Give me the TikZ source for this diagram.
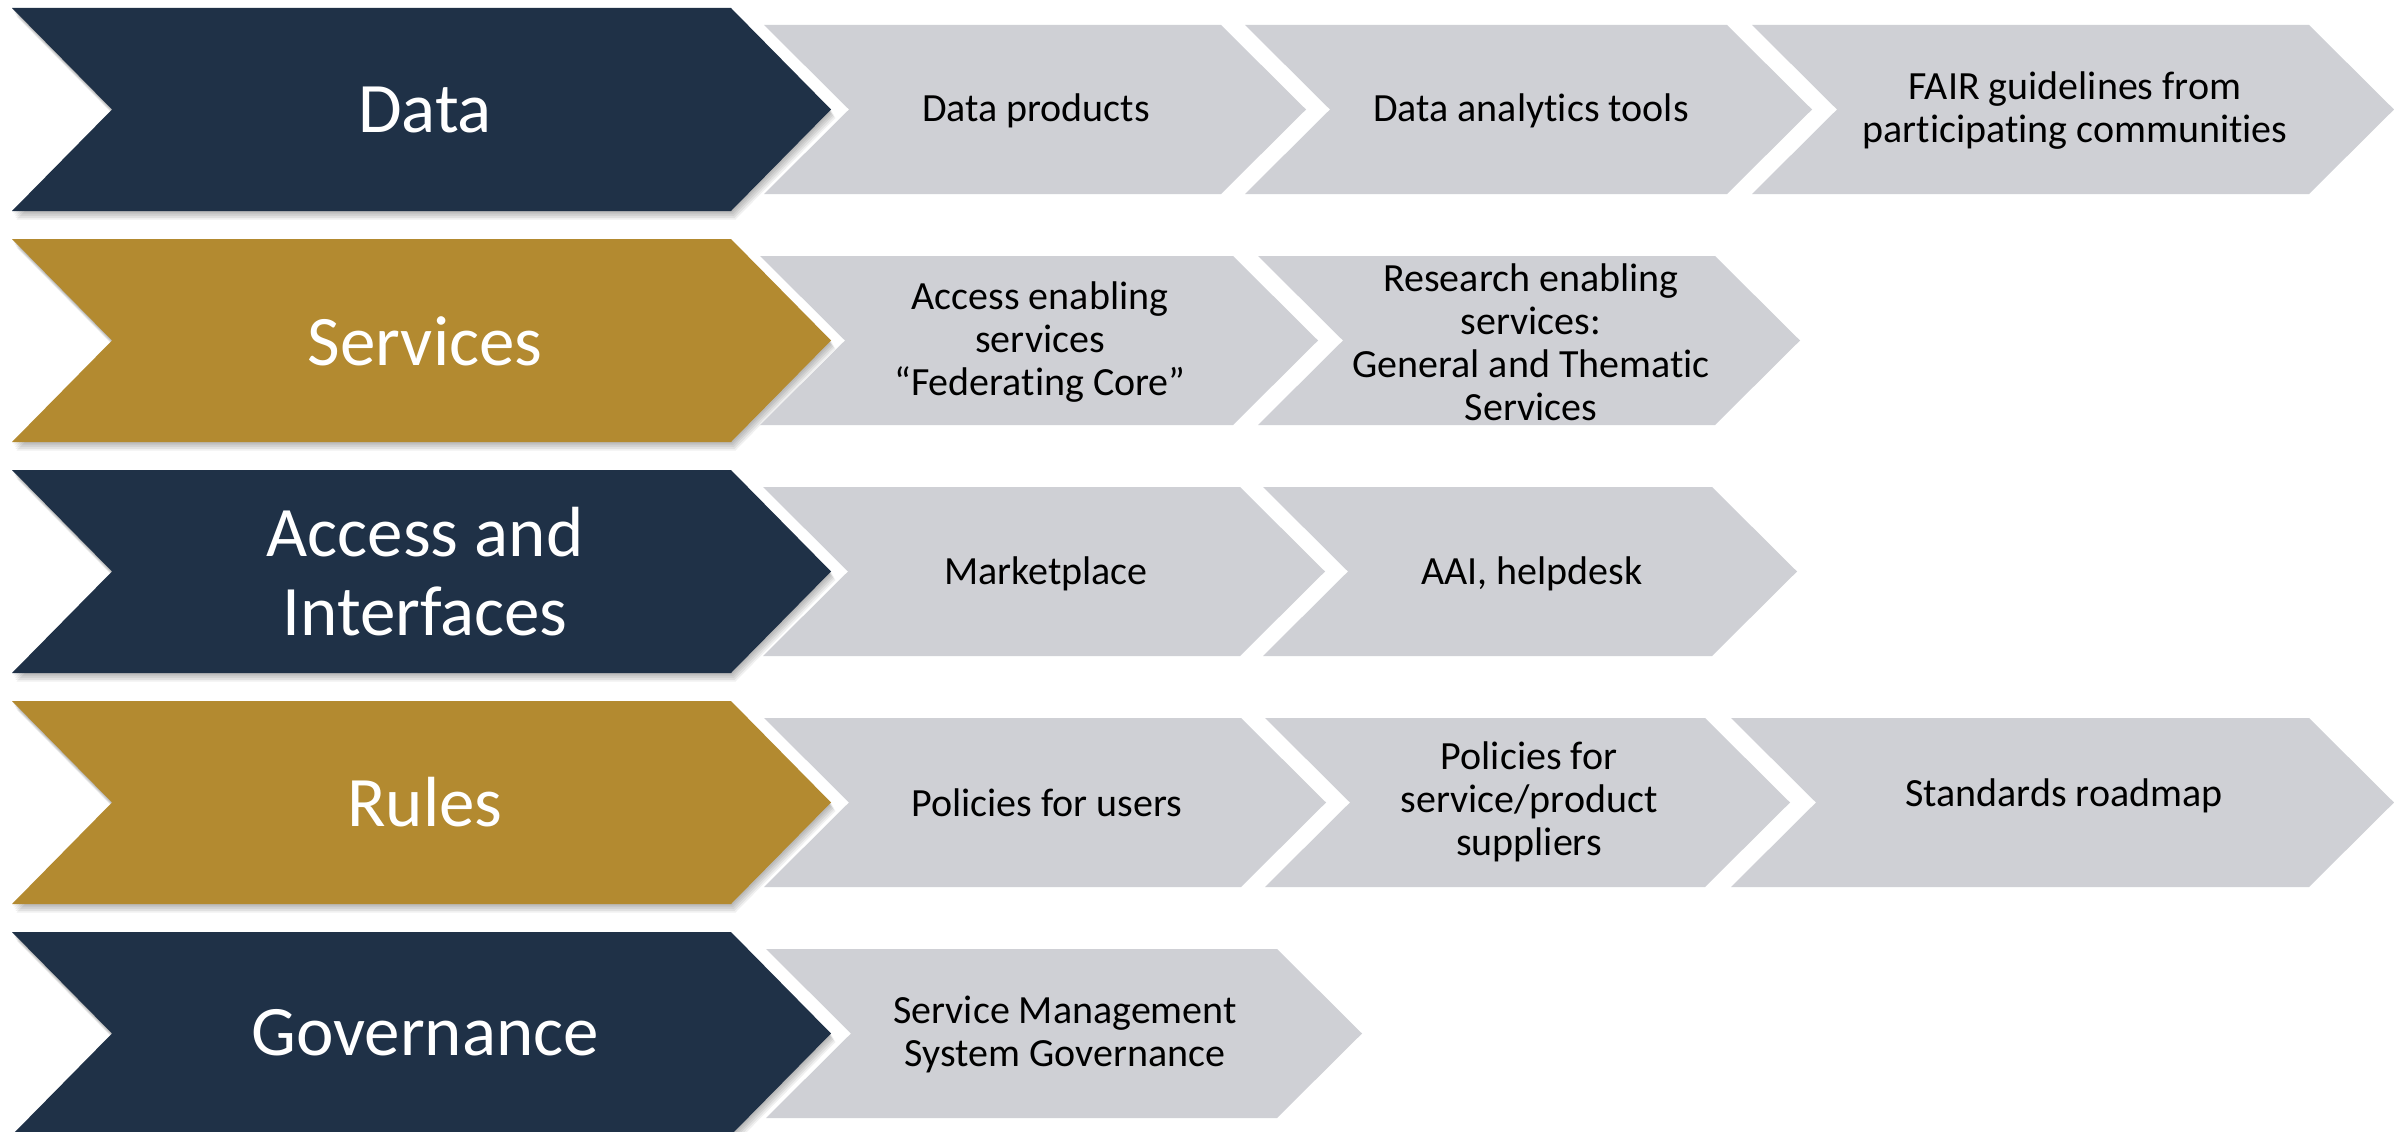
\documentclass[tikz,border=0pt]{standalone}
\usepackage{fontspec}
\setmainfont{Carlito}[Ligatures=NoCommon]
\definecolor{navy}{RGB}{31,49,71}
\definecolor{gold}{RGB}{179,138,48}
\definecolor{chevgray}{RGB}{207,208,213}
% x-left, x-tip, y-top, height, depth, fill
\newcommand\drawchev[6]{\fill[#6] (#1,#3) -- ({#2-#5},#3) -- (#2,{#3+#4/2}) -- ({#2-#5},{#3+#4}) -- (#1,{#3+#4}) -- ({#1+#5},{#3+#4/2}) -- cycle;}
\newcommand\shadowchev[5]{\foreach \s in {1,...,5}{\begin{scope}[shift={(\s*0.9,\s*1.7)}]\drawchev{#1}{#2}{#3}{#4}{#5}{black,opacity=0.06}\end{scope}}}
\begin{document}
\begin{tikzpicture}[x=1pt,y=-1pt,
  bigtext/.style={text=white,font=\fontsize{71}{79}\selectfont,align=center,inner sep=0pt},
  smalltext/.style={text=black,font=\fontsize{40}{43}\selectfont,align=center,inner sep=0pt}]
\useasboundingbox (0,0) rectangle (2394,1132);
\fill[white] (0,0) rectangle (2394,1132);

% ---- dark / gold main chevrons with shadows
\shadowchev{12}{831}{8}{203}{100}
\shadowchev{12}{831}{239}{203}{100}
\shadowchev{12}{831}{470}{203}{100}
\shadowchev{12}{831}{701}{203}{100}
\shadowchev{12}{831}{932}{203}{100}
\drawchev{12}{831}{8}{203}{100}{navy}
\drawchev{12}{831}{239}{203}{100}{gold}
\drawchev{12}{831}{470}{203}{100}{navy}
\drawchev{12}{831}{701}{203}{100}{gold}
\drawchev{12}{831}{932}{203}{100}{navy}

% ---- grey chevrons
% row 1
\drawchev{764}{1306}{25}{169}{85}{chevgray}
\drawchev{1245}{1812}{25}{169}{85}{chevgray}
\drawchev{1752}{2394}{25}{169}{85}{chevgray}
% row 2
\drawchev{760}{1318}{256}{169}{85}{chevgray}
\drawchev{1258}{1800}{256}{169}{85}{chevgray}
% row 3
\drawchev{763}{1325}{487}{169}{85}{chevgray}
\drawchev{1263}{1797}{487}{169}{85}{chevgray}
% row 4
\drawchev{764}{1326}{718}{169}{85}{chevgray}
\drawchev{1265}{1790}{718}{169}{85}{chevgray}
\drawchev{1731}{2394}{718}{169}{85}{chevgray}
% row 5
\drawchev{766}{1362}{949}{169}{85}{chevgray}

% ---- main labels
\node[bigtext] (data) at (425,110) {Data};
\node[bigtext] (services) at (425,341) {Services};
\node[bigtext] (access) at (425,572) {Access and\\Interfaces};
\node[bigtext] (rules) at (425,802) {Rules};
\node[bigtext] (gov) at (425,1033) {Governance};

% ---- item labels
\node[smalltext] (dprod) at (1036,111) {Data products};
\node[smalltext] (dtools) at (1531,111) {Data analytics tools};
\node[smalltext] (fair) at (2075,111) {FAIR guidelines from\\participating communities};

\node[smalltext] (aes) at (1040,342) {Access enabling\\services\\“Federating Core”};
\node[smalltext] (res) at (1531,342) {Research enabling\\services:\\General and Thematic\\Services};

\node[smalltext] (market) at (1046,574) {Marketplace};
\node[smalltext] (aai) at (1532,574) {AAI, helpdesk};

\node[smalltext] (pusers) at (1047,803) {Policies for users};
\node[smalltext] (psupp) at (1529,802) {Policies for\\service/product\\suppliers};
\node[smalltext] (stdmap) at (2064,796) {Standards roadmap};

\node[smalltext] (sms) at (1065,1034) {Service Management\\System Governance};
\end{tikzpicture}
\end{document}
